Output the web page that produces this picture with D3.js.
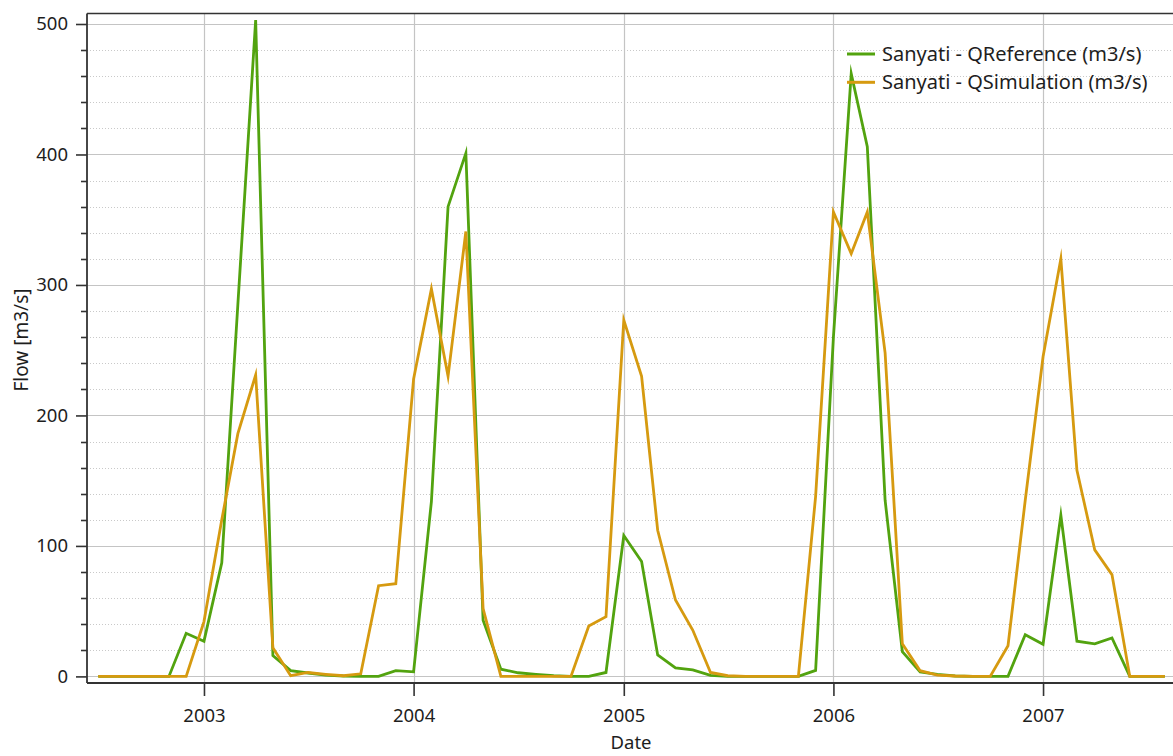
<!DOCTYPE html>
<html>
<head>
<meta charset="utf-8">
<script src="https://cdn.jsdelivr.net/npm/d3@7"></script>
<style>
  html, body { margin: 0; padding: 0; background: #ffffff; }
  svg { display: block; font-family: "Noto Sans", "Open Sans", sans-serif; }
</style>
</head>
<body>
<svg id="chart" width="1173" height="756"></svg>
<script>
// Monthly flow series for the Sanyati gauge, July 2002 – August 2007
const firstMonth = "2002-07-01";
const lastMonth = "2007-08-01";

const seriesNames = ["Sanyati - QReference (m3/s)", "Sanyati - QSimulation (m3/s)"];
const seriesColors = ["#52a30f", "#d69a10"];

// observed flow (m3/s)
const qReference = [
  0, 0, 0, 0, 0, 33,
  27, 87, 285, 503, 16, 4.4, 2.6, 1, 0.3, 0, 0, 4.4,
  3.5, 134, 360, 401, 43, 5.5, 2.8, 1.5, 0.5, 0, 0, 3,
  108, 88, 16.5, 6.5, 5, 0.8, 0, 0, 0, 0, 0, 4.6,
  260, 462, 406, 135, 19, 3.4, 1.5, 0.3, 0, 0, 0, 32,
  24.6, 123.5, 27, 25, 29.5, 0, 0, 0
];

// simulated flow (m3/s)
const qSimulation = [
  0, 0, 0, 0, 0, 0,
  42, 120, 186, 231, 22, 0.5, 3, 1.6, 0.5, 2, 69.5, 71,
  228, 297, 230, 341, 52, 0, 0, 0, 0, 0, 38.6, 45.8,
  273, 230, 112, 58.5, 35.5, 3, 0.5, 0, 0, 0, 0, 138,
  356, 324, 356, 248, 25, 4.4, 1, 0.3, 0, 0, 23.5, 135,
  245, 320, 158, 97, 78, 0, 0, 0
];

const yearTicks = [2003, 2004, 2005, 2006, 2007];
const flowTicks = [0, 100, 200, 300, 400, 500];
const flowMinorStep = 20;

const xTitle = "Date";
const yTitle = "Flow [m3/s]";

// ---- layout ----
const svg = d3.select("#chart");
const frame = { left: 87, top: 13.5, right: 1176, bottom: 683 };
const parse = d3.timeParse("%Y-%m-%d");
const months = d3.timeMonth.range(parse(firstMonth), d3.timeMonth.offset(parse(lastMonth), 1));

const x = d3.scaleTime()
  .domain(d3.extent(months))
  .range([98.3, 1164.8]);

const y = d3.scaleLinear()
  .domain([0, 500])
  .range([676.4, 24]);

const minorTicks = d3.range(0, 500 + 1, flowMinorStep).filter(v => v % 100 !== 0);

// minor horizontal grid (dotted)
svg.append("g")
  .selectAll("line")
  .data(minorTicks)
  .join("line")
  .attr("x1", frame.left).attr("x2", frame.right)
  .attr("y1", d => Math.round(y(d)) + 0.5).attr("y2", d => Math.round(y(d)) + 0.5)
  .attr("stroke", "#c9c9c9")
  .attr("stroke-width", 1)
  .attr("stroke-dasharray", "1,2");

// major horizontal grid
svg.append("g")
  .selectAll("line")
  .data(flowTicks)
  .join("line")
  .attr("x1", frame.left).attr("x2", frame.right)
  .attr("y1", d => Math.round(y(d)) + 0.5).attr("y2", d => Math.round(y(d)) + 0.5)
  .attr("stroke", "#c4c4c4")
  .attr("stroke-width", 1.2);

// vertical year grid
const yearDate = yr => new Date(yr, 0, 1);
svg.append("g")
  .selectAll("line")
  .data(yearTicks)
  .join("line")
  .attr("x1", d => Math.round(x(yearDate(d))) + 0.5).attr("x2", d => Math.round(x(yearDate(d))) + 0.5)
  .attr("y1", frame.top).attr("y2", frame.bottom)
  .attr("stroke", "#c4c4c4")
  .attr("stroke-width", 1.2);

// data lines
const line = d3.line()
  .x((d, i) => x(months[i]))
  .y(d => y(d));

[qReference, qSimulation].forEach((vals, k) => {
  svg.append("path")
    .datum(vals)
    .attr("d", line)
    .attr("fill", "none")
    .attr("stroke", seriesColors[k])
    .attr("stroke-width", 2.8)
    .attr("stroke-linejoin", "miter")
    .attr("stroke-miterlimit", 10);
});

// frame: top border
svg.append("line")
  .attr("x1", frame.left).attr("x2", frame.right)
  .attr("y1", frame.top).attr("y2", frame.top)
  .attr("stroke", "#333").attr("stroke-width", 1.6);

// y axis
const yAxis = d3.axisLeft(y)
  .tickValues(flowTicks)
  .tickSize(11)
  .tickPadding(8)
  .tickFormat(d3.format("d"));
const gy = svg.append("g")
  .attr("transform", `translate(${frame.left},0)`)
  .call(yAxis);
gy.select(".domain").remove();
gy.selectAll(".tick line").attr("stroke", "#333").attr("stroke-width", 1.6);
gy.selectAll(".tick text").attr("fill", "#1e1e1e").attr("font-size", 18.5)
  .attr("font-family", "'Noto Sans', sans-serif");

svg.append("g")
  .selectAll("line")
  .data(minorTicks)
  .join("line")
  .attr("x1", frame.left - 6).attr("x2", frame.left)
  .attr("y1", d => Math.round(y(d)) + 0.5).attr("y2", d => Math.round(y(d)) + 0.5)
  .attr("stroke", "#333").attr("stroke-width", 1.6);

svg.append("line")
  .attr("x1", frame.left).attr("x2", frame.left)
  .attr("y1", frame.top).attr("y2", frame.bottom)
  .attr("stroke", "#333").attr("stroke-width", 1.8);

// x axis
const xAxis = d3.axisBottom(x)
  .tickValues(yearTicks.map(yearDate))
  .tickSize(13)
  .tickPadding(13)
  .tickFormat(d3.timeFormat("%Y"));
const gx = svg.append("g")
  .attr("transform", `translate(0,${frame.bottom})`)
  .call(xAxis);
gx.select(".domain").remove();
gx.selectAll(".tick line").attr("stroke", "#333").attr("stroke-width", 1.6);
gx.selectAll(".tick text").attr("fill", "#1e1e1e").attr("font-size", 18.5)
  .attr("font-family", "'Noto Sans', sans-serif");

svg.append("line")
  .attr("x1", frame.left).attr("x2", frame.right)
  .attr("y1", frame.bottom).attr("y2", frame.bottom)
  .attr("stroke", "#333").attr("stroke-width", 1.8);

// axis titles
svg.append("text")
  .attr("x", 631).attr("y", 749)
  .attr("text-anchor", "middle")
  .attr("font-size", 18.5).attr("fill", "#1e1e1e")
  .text(xTitle);

svg.append("text")
  .attr("transform", "translate(28,340) rotate(-90)")
  .attr("text-anchor", "middle")
  .attr("font-size", 19).attr("fill", "#1e1e1e")
  .text(yTitle);

// legend
const legend = svg.append("g").attr("transform", "translate(847,54)");
seriesNames.forEach((name, k) => {
  const g = legend.append("g").attr("transform", `translate(0,${k * 28.3})`);
  g.append("line")
    .attr("x1", 0).attr("x2", 28)
    .attr("y1", 0).attr("y2", 0)
    .attr("stroke", seriesColors[k]).attr("stroke-width", 3);
  g.append("text")
    .attr("x", 35).attr("y", 0).attr("dy", "0.35em")
    .attr("font-size", 20).attr("fill", "#1e1e1e")
    .text(name);
});
</script>
</body>
</html>
